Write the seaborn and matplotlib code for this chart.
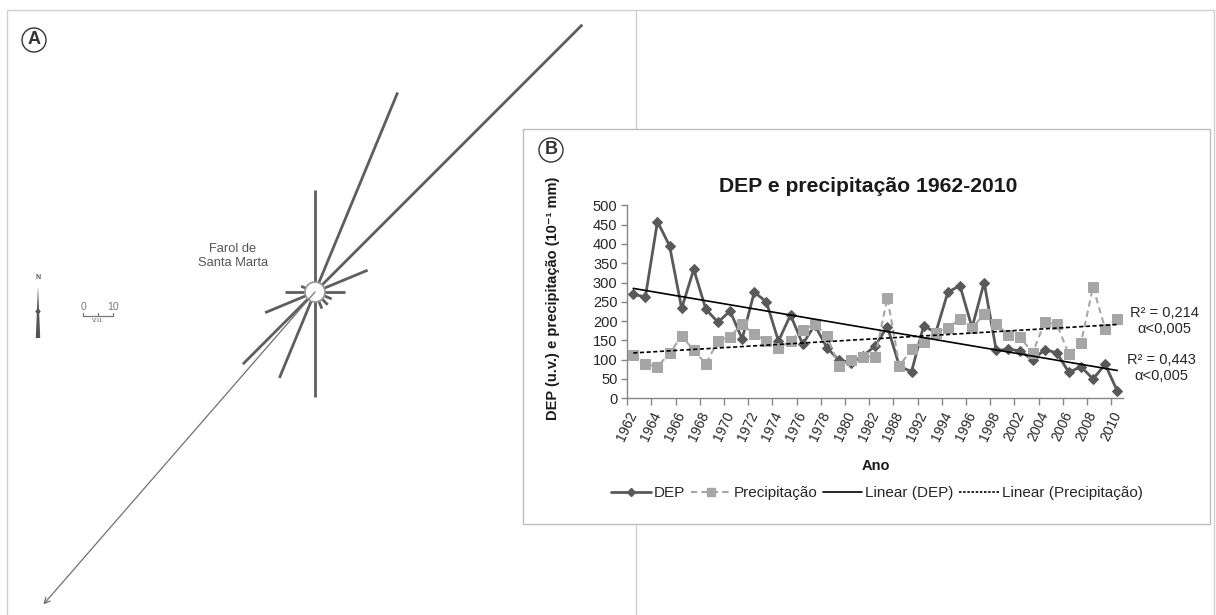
import numpy as np
import pandas as pd
import matplotlib
matplotlib.use("Agg")
import matplotlib.pyplot as plt
from matplotlib.lines import Line2D
from matplotlib.patches import Rectangle, Circle, Ellipse
import seaborn as sns

# ---------------- data ----------------
years = [1962, 1963, 1964, 1965, 1966, 1967, 1968, 1969, 1970, 1971,
         1972, 1973, 1974, 1975, 1976, 1977, 1978, 1979, 1980, 1981,
         1982, 1985, 1988, 1990, 1992, 1993, 1994, 1995, 1996, 1997,
         1998, 2000, 2002, 2003, 2004, 2005, 2006, 2007, 2008, 2009, 2010]
dep = [270, 262, 458, 395, 233, 334, 231, 197, 226, 154,
       275, 250, 148, 216, 140, 190, 131, 99, 92, 110,
       136, 186, 83, 69, 188, 170, 275, 292, 183, 300,
       124, 127, 123, 99, 126, 118, 67, 82, 50, 88, 19]
prec = [112, 89, 82, 117, 161, 125, 89, 149, 160, 192,
        166, 149, 130, 149, 177, 192, 162, 84, 99, 108,
        108, 261, 84, 127, 147, 168, 183, 205, 182, 218,
        192, 164, 158, 117, 197, 192, 114, 143, 289, 180, 205]
trend_labels = ["R\u00b2 = 0,214\n\u03b1<0,005", "R\u00b2 = 0,443\n\u03b1<0,005"]
legend_labels = ["DEP", "Precipita\u00e7\u00e3o", "Linear (DEP)", "Linear (Precipita\u00e7\u00e3o)"]
yticks = list(range(0, 501, 50))

# wind rose (panel A): 16 directions, drift potential in v.u.
rose_bearings = [0, 22.5, 45, 67.5, 90, 112.5, 135, 157.5,
                 180, 202.5, 225, 247.5, 270, 292.5, 315, 337.5]
rose_dp = [34, 72, 126, 19, 10, 6, 6, 6, 35, 31, 34, 18, 10, 5, 0, 0]
rdd_bearing = 221
rdp = 138

# ---------------- style ----------------
sns.set_style("white")
plt.rcParams["font.family"] = ["Liberation Sans", "DejaVu Sans"]

W, H = 1216, 615
fig = plt.figure(figsize=(W / 100, H / 100), dpi=100)


def fx(px):
    return px / W


def fy(py):
    return 1 - py / H


# ---------------- panel A ----------------
cx, cy, s = 315, 292, 3.0  # centre (px) and px per v.u.
axA = fig.add_axes([0, 0, 1, 1])
axA.set_xlim((0 - cx) / s, (W - cx) / s)
axA.set_ylim((cy - H) / s, cy / s)
axA.axis("off")
axA.set_zorder(0)


def A(px, py):
    return (px - cx) / s, (cy - py) / s


for b, L in zip(rose_bearings, rose_dp):
    if L <= 0:
        continue
    r = np.deg2rad(b)
    axA.plot([0, L * np.sin(r)], [0, L * np.cos(r)], color="#5e5e5e",
             lw=2.0, solid_capstyle="butt", zorder=2)
axA.add_patch(Circle((0, 0), 10 / s, fc="white", ec="#9a9a9a", lw=1.3, zorder=3))
rr = np.deg2rad(rdd_bearing)
axA.annotate("", xy=(rdp * np.sin(rr), rdp * np.cos(rr)), xytext=(0, 0),
             arrowprops=dict(arrowstyle="->", color="#707070", lw=0.9,
                             shrinkA=0, shrinkB=0, mutation_scale=10), zorder=4)
axA.text(*A(233, 256), "Farol de\nSanta Marta", ha="center", va="center",
         fontsize=9.3, color="#555555", linespacing=1.15)

# "A" label
axA.add_patch(Circle(A(34, 40), 12 / s, fc="white", ec="#333333", lw=1.0, zorder=3))
axA.text(*A(34, 40), "A", ha="center", va="center", fontsize=13,
         fontweight="bold", color="#333333", zorder=4)

# north arrow
nx, ntop, nbot = A(38, 286)[0], A(38, 286)[1], A(38, 338)[1]
axA.fill([nx, nx + 0.75, nx - 0.75], [ntop, nbot, nbot], color="#555555", lw=0)
axA.fill([nx - 0.9, nx, nx + 0.9, nx], [ntop - 8.5, ntop - 7.3, ntop - 8.5, ntop - 9.7],
         color="#555555", lw=0)
axA.text(nx, A(38, 278)[1], "N", ha="center", va="center", fontsize=5,
         fontweight="bold", color="#555555")

# scale bar (10 v.u.)
sx0, sy0 = A(83, 316)
axA.plot([sx0, sx0 + 10], [sy0, sy0], color="#777777", lw=0.9)
for t in (0, 5, 10):
    axA.plot([sx0 + t, sx0 + t], [sy0, sy0 + 0.9], color="#777777", lw=0.9)
axA.text(sx0, sy0 + 1.2, "0", ha="center", va="bottom", fontsize=7.5, color="#777777")
axA.text(sx0 + 10, sy0 + 1.2, "10", ha="center", va="bottom", fontsize=7.5, color="#777777")
axA.text(sx0 + 5, sy0 - 0.5, "v.u.", ha="center", va="top", fontsize=6, color="#777777")

# frame lines
fc = "#cfcfcf"
for xs, ys in [([7, 1214], [10, 10]), ([7, 7], [10, 615]), ([636, 636], [10, 615]),
               ([1214, 1214], [10, 615])]:
    fig.add_artist(Line2D([fx(x) for x in xs], [fy(y) for y in ys],
                          transform=fig.transFigure, color=fc, lw=1.0, zorder=0.5))

# ---------------- panel B ----------------
box = Rectangle((fx(523), fy(524)), (1210 - 523) / W, (524 - 129) / H,
                transform=fig.transFigure, fc="white", ec="#bdbdbd", lw=1.0, zorder=1)
fig.add_artist(box)
fig.add_artist(Ellipse((fx(551), fy(150)), 24 / W, 24 / H, transform=fig.transFigure,
                       fc="white", ec="#333333", lw=1.0, zorder=1.5))
fig.text(fx(551), fy(150), "B", ha="center", va="center", fontsize=13,
         fontweight="bold", color="#333333", zorder=1.6)

x0, x1, y0, y1 = 627.2, 1123.3, 398.3, 205.3
axB = fig.add_axes([fx(x0), fy(y0), (x1 - x0) / W, (y0 - y1) / H])
axB.set_zorder(2)
axB.patch.set_alpha(0)

df = pd.DataFrame({"idx": np.arange(len(years)), "Ano": years,
                   "DEP": dep, "Prec": prec})
idx = df["idx"].to_numpy()

c_dep, c_prec = "#595959", "#a6a6a6"
sns.lineplot(data=df, x="idx", y="DEP", ax=axB, color=c_dep, lw=2.0,
             marker="D", markersize=5.5, markeredgecolor=c_dep, legend=False, zorder=3)
sns.lineplot(data=df, x="idx", y="Prec", ax=axB, color=c_prec, lw=1.5,
             marker="s", markersize=6.5, markeredgecolor=c_prec, legend=False, zorder=4)
axB.lines[-1].set_linestyle((0, (3, 2)))

dep_fit = np.polyval(np.polyfit(idx, df["DEP"], 1), idx)
prec_fit = np.polyval(np.polyfit(idx, df["Prec"], 1), idx)
sns.lineplot(x=idx, y=dep_fit, ax=axB, color="black", lw=1.2, legend=False, zorder=5)
sns.lineplot(x=idx, y=prec_fit, ax=axB, color="black", lw=1.2, legend=False, zorder=5)
axB.lines[-1].set_linestyle((0, (2.5, 1.5)))

axB.set_xlim(-0.5, len(years) - 0.5)
axB.set_ylim(0, 500)
axB.set_xlabel("")
axB.set_ylabel("")
axB.set_yticks(yticks)
axB.set_xticks(idx[::2])
axB.set_xticklabels([str(y) for y in years[::2]], rotation=65,
                    ha="right", va="center", rotation_mode="anchor")
axB.set_xticks(np.arange(-0.5, len(years) - 1, 2), minor=True)
axB.tick_params(axis="x", which="major", length=0, pad=10, labelsize=10, labelcolor="#262626")
axB.tick_params(axis="x", which="minor", length=5, width=1, color="#868686", direction="out")
axB.tick_params(axis="y", length=4, width=1, color="#868686", direction="out",
                labelsize=10.5, labelcolor="#262626", pad=3, left=True)
axB.tick_params(axis="x", which="minor", bottom=True)
for sp in ("top", "right"):
    axB.spines[sp].set_visible(False)
for sp in ("left", "bottom"):
    axB.spines[sp].set_color("#868686")
    axB.spines[sp].set_linewidth(1.0)

fig.text(fx(868), fy(187), "DEP e precipita\u00e7\u00e3o 1962-2010", ha="center", va="center",
         fontsize=15.2, fontweight="bold", color="#1a1a1a", zorder=3)
fig.text(fx(553), fy(298), "DEP (u.v.) e precipita\u00e7\u00e3o (10\u207b\u00b9 mm)", rotation=90,
         ha="center", va="center", fontsize=10.5, fontweight="bold", color="#1a1a1a", zorder=3)
fig.text(fx(876), fy(466), "Ano", ha="center", va="center", fontsize=10.5,
         fontweight="bold", color="#1a1a1a", zorder=3)
fig.text(fx(1164), fy(321), trend_labels[0], ha="center", va="center", fontsize=10.5,
         color="#262626", linespacing=1.1, zorder=3)
fig.text(fx(1161), fy(368), trend_labels[1], ha="center", va="center", fontsize=10.5,
         color="#262626", linespacing=1.1, zorder=3)

handles = [
    Line2D([], [], color=c_dep, lw=2.0, marker="D", markersize=4.5),
    Line2D([], [], color=c_prec, lw=1.5, ls=(0, (3, 2)), marker="s", markersize=5.5),
    Line2D([], [], color="black", lw=1.2),
    Line2D([], [], color="black", lw=1.2, ls=(0, (1.5, 1))),
]
leg = fig.legend(handles, legend_labels, loc="center", bbox_to_anchor=(fx(877), fy(493)),
                 ncol=4, frameon=False, fontsize=11, handlelength=2.6,
                 handletextpad=0.2, columnspacing=0.35)
leg.set_zorder(3)
for t in leg.get_texts():
    t.set_color("#262626")

fig.savefig("out.png", dpi=100)
